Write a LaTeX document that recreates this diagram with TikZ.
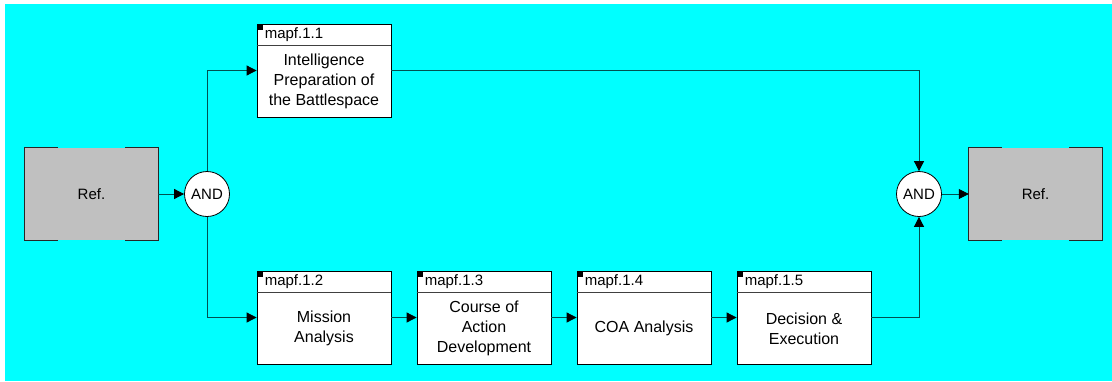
\documentclass[tikz,border=0pt]{standalone}
\usepackage{fontspec}
\setmainfont{Liberation Sans}
\usepackage{tikz}
\usetikzlibrary{arrows.meta,positioning,calc}

\definecolor{bgcyan}{RGB}{0,255,255}
\definecolor{refgray}{RGB}{192,192,192}
\definecolor{linkcol}{RGB}{0,80,80}

% activity box: name, position, number, title
\newcommand{\mapfbox}[4]{%
	\node[activity] (#1) at #2 {};
	\draw[hdrsep] ([yshift=-22pt]#1.north west) -- ([yshift=-22pt]#1.north east);
	\fill ([xshift=0.4pt,yshift=-0.4pt]#1.north west) rectangle ([xshift=6.5pt,yshift=-6.5pt]#1.north west);
	\node[anchor=west,inner sep=0pt] (#1-id) at ([xshift=8pt,yshift=-11.5pt]#1.north west) {mapf.#3};
	\node[align=center,inner sep=0pt,font=\fontsize{16}{20}\selectfont] (#1-title) at ([yshift=-11pt]#1.center) {#4};
}

\begin{document}
\begin{tikzpicture}[
			x = 1pt, y = -1pt,
			every node/.style = {font = \fontsize{15}{20}\selectfont},
			activity/.style = {draw, line width = 0.8pt, fill = white, minimum width = 134pt, minimum height = 93pt, inner sep = 0pt},
			refbox/.style = {fill = refgray, minimum width = 133pt, minimum height = 92pt, inner sep = 0pt},
			refedge/.style = {line width = 0.9pt, black!85},
			junction/.style = {circle, draw, line width = 0.8pt, fill = white, minimum size = 45pt, inner sep = 0pt},
			hdrsep/.style = {line width = 0.8pt, black!75},
			link/.style = {linkcol, line width = 0.8pt, -{Triangle[length=10pt,width=10pt,color=black]}},
			]

			\useasboundingbox (0,0) rectangle (1112,381);
			\fill[bgcyan] (5,4) rectangle (1112,381);

			\node[refbox] (refL) at (91.5,194) {Ref.};
			\node[refbox] (refR) at (1035.5,194) {Ref.};
			\foreach \r in {refL,refR} {
				\draw[refedge] ([xshift=33pt]\r.north west) -- (\r.north west) -- (\r.south west) -- ([xshift=33pt]\r.south west);
				\draw[refedge] ([xshift=-33pt]\r.north east) -- (\r.north east) -- (\r.south east) -- ([xshift=-33pt]\r.south east);
			}

			\node[junction] (andL) at (207,194) {AND};
			\node[junction] (andR) at (919,194) {AND};

			\mapfbox{m11}{(324,70.5)}{1.1}{Intelligence\\Preparation of\\the Battlespace}
			\mapfbox{m12}{(324,317.5)}{1.2}{Mission\\Analysis}
			\mapfbox{m13}{(484,317.5)}{1.3}{Course of\\Action\\Development}
			\mapfbox{m14}{(644,317.5)}{1.4}{COA Analysis}
			\mapfbox{m15}{(804,317.5)}{1.5}{Decision \&\\Execution}

			\draw[link] (refL) -- (andL);
			\draw[link] (andL) |- (m11);
			\draw[link] (andL) |- (m12);
			\draw[link] (m12) -- (m13);
			\draw[link] (m13) -- (m14);
			\draw[link] (m14) -- (m15);
			\draw[link] (m11) -| (andR);
			\draw[link] (m15) -| (andR);
			\draw[link] (andR) -- (refR);

		\end{tikzpicture}
\end{document}
